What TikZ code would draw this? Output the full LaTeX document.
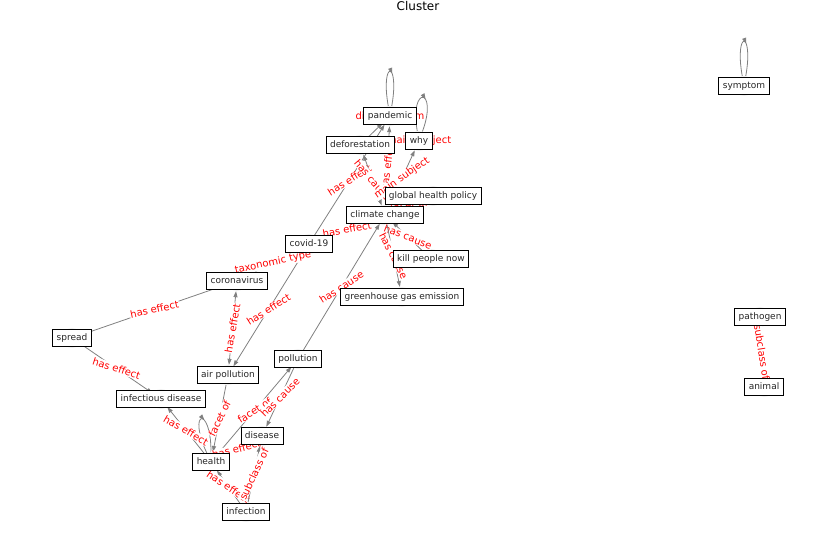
\documentclass[tikz,border=0pt]{standalone}
\usepackage{fontspec}
\setmainfont{DejaVu Sans}
\usetikzlibrary{arrows.meta,decorations.markings}

\tikzset{
  >={Triangle[length=6pt,width=4pt]},
  vert/.style={circle, minimum size=20pt, inner sep=0pt, fill=black!6},
  lbl/.style={draw=black, fill=white, line width=0.8pt, inner xsep=4pt, inner ysep=4pt,
    text height=7pt, text depth=2pt, font=\fontsize{9}{10}\selectfont, text=black!85},
  edge/.style={draw=black!50, line width=0.8pt, ->},
  edgeboth/.style={draw=black!50, line width=0.8pt, <->},
  elabel/.style={midway, fill=white, inner sep=0.5pt, text=red,
    font=\fontsize{10}{11}\selectfont},
  looplbl/.style={fill=white, inner sep=0.5pt, text=red, font=\fontsize{10}{11}\selectfont},
  selfloop/.style={draw=black!50, line width=0.8pt, postaction={decorate},
    decoration={markings, mark=at position 0.55 with {\arrow{>}}}}
}

\begin{document}
\begin{tikzpicture}[x=1pt,y=1pt]
\useasboundingbox (0,0) rectangle (837,-559);

% Title
\node[font=\fontsize{12}{13}\selectfont] (title) at (418,-6) {Cluster};

% Vertices
\node[vert] (pandemic) at (390,-116) {};
\node[vert] (why) at (419,-141) {};
\node[vert] (deforestation) at (360,-145) {};
\node[vert] (globalhealth) at (433,-196) {};
\node[vert] (climate) at (385,-215) {};
\node[vert] (covid) at (309,-244) {};
\node[vert] (killpeople) at (431,-259) {};
\node[vert] (corona) at (237,-281) {};
\node[vert] (greenhouse) at (402,-297) {};
\node[vert] (spread) at (72,-338) {};
\node[vert] (pollution) at (298,-359) {};
\node[vert] (airpollution) at (228,-375) {};
\node[vert] (infectious) at (161,-399) {};
\node[vert] (disease) at (262,-436) {};
\node[vert] (health) at (211,-462) {};
\node[vert] (infection) at (246,-512) {};
\node[vert] (symptom) at (744,-86) {};
\node[vert] (pathogen) at (760,-317) {};
\node[vert] (animal) at (764,-387) {};

% Self loops
\draw[selfloop] (pandemic) to[out=100,in=80,looseness=1,min distance=47pt] (pandemic);
\draw[selfloop] (why) to[out=100,in=70,looseness=1,min distance=47pt] (why);
\draw[selfloop] (health) to[out=115,in=90,looseness=1,min distance=47pt] (health);
\draw[selfloop] (symptom) to[out=100,in=80,looseness=1,min distance=47pt] (symptom);
\node[looplbl] (pandemic-loop) at (pandemic) {different from};
\node[looplbl] (why-loop) at (why) {main subject};

% Edges, upper part
\draw[edge] (covid) -- node[elabel, rotate=32] {has effect} (pandemic);
\draw[edgeboth] (deforestation) -- node[elabel, rotate=-50] {has cause} (climate);
\draw[edge] (climate) -- node[elabel, rotate=83] {has effect} (pandemic);
\draw[edge] (climate) -- node[elabel, rotate=35] {main subject} (why);
\draw[edge] (deforestation) -- (pandemic);
\draw[edge] (globalhealth) -- node[elabel, rotate=9] {facet of} (climate);
\draw[edge] (killpeople) -- node[elabel, rotate=-21] {has cause} (climate);
\draw[edge] (climate) -- node[elabel, rotate=-63] {has cause} (greenhouse);
\draw[edge] (pollution) -- node[elabel, rotate=33] {has cause} (climate);
\draw[edge] (covid) -- node[elabel, rotate=10] {has effect} (climate);
\draw[edge] (covid) -- node[elabel, rotate=32] {has effect} (airpollution);
\draw[edge] (covid) -- node[elabel, rotate=12] {taxonomic type} (corona);

% Edges, lower part
\draw[edge] (spread) -- node[elabel, rotate=12] {has effect} (corona);
\draw[edge] (spread) -- node[elabel, rotate=-18] {has effect} (infectious);
\draw[edgeboth] (corona) -- node[elabel, rotate=80] {has effect} (airpollution);
\draw[edge] (health) -- node[elabel, rotate=-30] {has effect} (infectious);
\draw[edge] (airpollution) -- node[elabel, rotate=64] {facet of} (health);
\draw[edge] (health) -- node[elabel, rotate=33] {facet of} (pollution);
\draw[edge] (pollution) -- node[elabel, rotate=45] {has cause} (disease);
\draw[edge] (health) -- node[elabel, rotate=14] {has effect} (disease);
\draw[edge] (infection) -- node[elabel, rotate=-34] {has effect} (health);
\draw[edge] (infection) -- node[elabel, rotate=65] {subclass of} (disease);
\draw[edge] (pathogen) -- node[elabel, rotate=-81] {subclass of} (animal);

% Labels
\node[lbl] (pandemic-lbl) at (pandemic) {pandemic};
\node[lbl] (deforestation-lbl) at (deforestation) {deforestation};
\node[lbl] (why-lbl) at (why) {why};
\node[lbl] (globalhealth-lbl) at (globalhealth) {global health policy};
\node[lbl] (climate-lbl) at (climate) {climate change};
\node[lbl] (covid-lbl) at (covid) {covid-19};
\node[lbl] (killpeople-lbl) at (killpeople) {kill people now};
\node[lbl] (corona-lbl) at (corona) {coronavirus};
\node[lbl] (greenhouse-lbl) at (greenhouse) {greenhouse gas emission};
\node[lbl] (spread-lbl) at (spread) {spread};
\node[lbl] (pollution-lbl) at (pollution) {pollution};
\node[lbl] (airpollution-lbl) at (airpollution) {air pollution};
\node[lbl] (infectious-lbl) at (infectious) {infectious disease};
\node[lbl] (disease-lbl) at (disease) {disease};
\node[lbl] (health-lbl) at (health) {health};
\node[lbl] (infection-lbl) at (infection) {infection};
\node[lbl] (symptom-lbl) at (symptom) {symptom};
\node[lbl] (pathogen-lbl) at (pathogen) {pathogen};
\node[lbl] (animal-lbl) at (animal) {animal};

\end{tikzpicture}
\end{document}
